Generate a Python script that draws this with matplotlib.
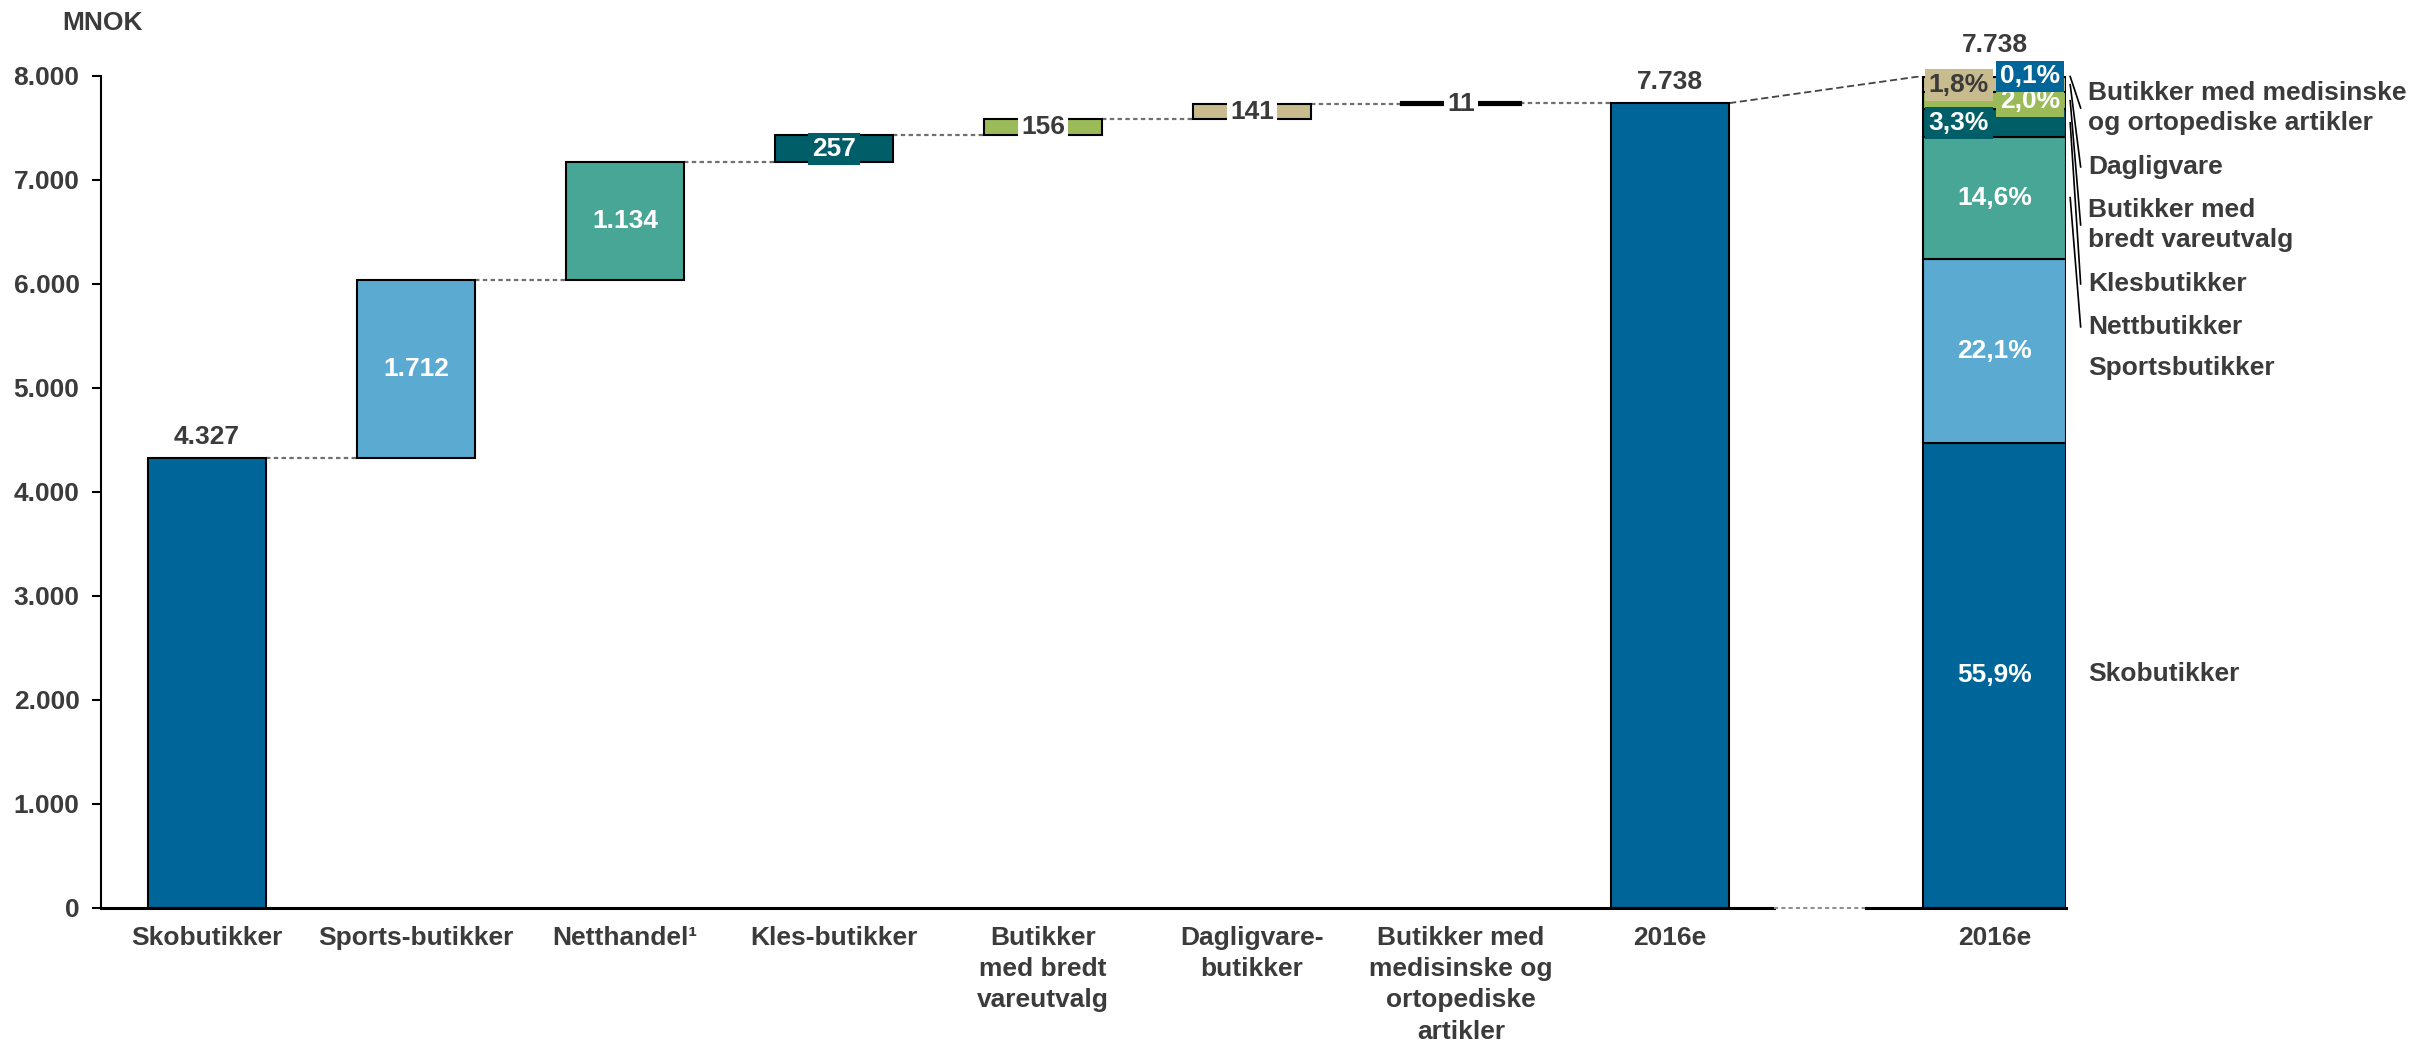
import matplotlib
matplotlib.use("Agg")
import matplotlib.pyplot as plt

plt.rcParams['font.family'] = ['Liberation Sans', 'DejaVu Sans']
plt.rcParams['font.weight'] = 'bold'

# data
categories = ["Skobutikker", "Sports-butikker", "Netthandel\u00b9", "Kles-butikker",
              "Butikker\nmed bredt\nvareutvalg", "Dagligvare-\nbutikker",
              "Butikker med\nmedisinske og\nortopediske\nartikler"]
increments = [4327, 1712, 1134, 257, 156, 141, 11]
total = 7738
total_label = "2016e"
share_labels = ["55,9%", "22,1%", "14,6%", "3,3%", "2,0%", "1,8%", "0,1%"]
segment_names = ["Skobutikker", "Sportsbutikker", "Nettbutikker", "Klesbutikker",
                 "Butikker med\nbredt vareutvalg", "Dagligvare",
                 "Butikker med medisinske\nog ortopediske artikler"]
yticks = [0, 1000, 2000, 3000, 4000, 5000, 6000, 7000, 8000]

# style
colors = ["#006699", "#5BAAD2", "#47A696", "#005E69", "#9BBB59", "#C8BB8D", "#006699"]
txt = "#3B3B3B"
fs = 19
w = 0.565
x2 = 8.553
w2 = 0.684
stack_height = 8000


def fmt(v):
    return f"{v:,}".replace(",", ".")


fig = plt.figure(figsize=(24.13, 10.47), dpi=100)
ax = fig.add_axes([0.0419, 0.1328, 0.8143, 0.7947])

# waterfall
bottom = 0
for i, v in enumerate(increments):
    lw = 3 if v < 50 else 1.5
    ax.bar(i, v, bottom=bottom, width=w, color=colors[i], edgecolor="black", linewidth=lw, zorder=2)
    top = bottom + v
    # connector to next bar
    ax.plot([i + w / 2, i + 1 - w / 2], [top, top], color="#707070", lw=1.6,
            dashes=(2, 1.5), zorder=1)
    mid = bottom + v / 2
    if i == 0:
        ax.annotate(fmt(v), (i, top), xytext=(0, 15), textcoords="offset points",
                    ha="center", va="center", fontsize=fs, color=txt)
    elif i in (1, 2):
        ax.text(i, mid, fmt(v), ha="center", va="center", fontsize=fs, color="white", zorder=3)
    elif i == 3:
        ax.text(i, mid, fmt(v), ha="center", va="center", fontsize=fs, color="white", zorder=3,
                bbox=dict(boxstyle="square,pad=0.15", fc=colors[i], ec="none"))
    else:
        ax.text(i, mid, fmt(v), ha="center", va="center", fontsize=fs, color=txt, zorder=3,
                bbox=dict(boxstyle="square,pad=0.12", fc="white", ec="none"))
    bottom = top

# total bar
n = len(increments)
ax.bar(n, total, width=w, color=colors[0], edgecolor="black", linewidth=1.5, zorder=2)
ax.annotate(fmt(total), (n, total), xytext=(0, 15), textcoords="offset points",
            ha="center", va="center", fontsize=fs, color=txt)

# connector to stacked bar
ax.plot([n + w / 2, x2 - w2 / 2], [total, stack_height], color="#444444", lw=1.3,
        dashes=(4, 2), zorder=1)

# stacked share bar
sb = 0
centers = []
for i, v in enumerate(increments):
    h = v / total * stack_height
    ax.bar(x2, h, bottom=sb, width=w2, color=colors[i], edgecolor="black", linewidth=1.5, zorder=2)
    centers.append(sb + h / 2)
    c = sb + h / 2
    if i < 3:
        ax.text(x2, c, share_labels[i], ha="center", va="center", fontsize=fs, color="white", zorder=4)
    else:
        xx = x2 - w2 / 4 if i in (3, 5) else x2 + w2 / 4
        tc = txt if i == 5 else "white"
        ax.text(xx, c, share_labels[i], ha="center", va="center", fontsize=fs, color=tc, zorder=4,
                bbox=dict(boxstyle="square,pad=0.15", fc=colors[i], ec="none"))
    sb += h
ax.annotate(fmt(total), (x2, stack_height), xytext=(0, 22), textcoords="offset points",
            ha="center", va="center", fontsize=fs, color=txt)

# segment names right of the stacked bar
label_y = [2250, 5192, 5587, 6000, 6567, 7125, 7692]
for i, name in enumerate(segment_names):
    ax.text(9.0, label_y[i], name, ha="left", va="center", fontsize=fs, color=txt,
            linespacing=1.3, clip_on=False)
    if i >= 2:
        ax.plot([8.915, 8.965], [centers[i], label_y[i]], color="black", lw=1.2, clip_on=False)

# axes
ax.set_xlim(-0.507, 8.895)
ax.set_ylim(0, 8000)
for s in ("top", "right", "bottom"):
    ax.spines[s].set_visible(False)
ax.spines["left"].set_linewidth(1.5)
ax.plot([-0.507, 7.5], [0, 0], color="black", lw=2.2, clip_on=False, zorder=3)
ax.plot([7.5, 7.94], [0, 0], color="#909090", lw=1.5, dashes=(2, 1.5), clip_on=False, zorder=3)
ax.plot([7.94, 8.895], [0, 0], color="black", lw=2.2, clip_on=False, zorder=3)

ax.set_yticks(yticks)
ax.set_yticklabels([fmt(t) for t in yticks], fontsize=fs, color=txt)
ax.tick_params(axis="y", length=6.5, width=1.5, pad=9)
ax.set_xticks(list(range(n + 1)) + [x2])
ax.set_xticklabels(categories + [total_label, total_label], fontsize=fs, color=txt, linespacing=1.38)
ax.tick_params(axis="x", length=0, pad=13)

fig.text(0.0425, 0.978, "MNOK", ha="center", va="center", fontsize=fs, color=txt)

fig.savefig("out.png", dpi=100)
